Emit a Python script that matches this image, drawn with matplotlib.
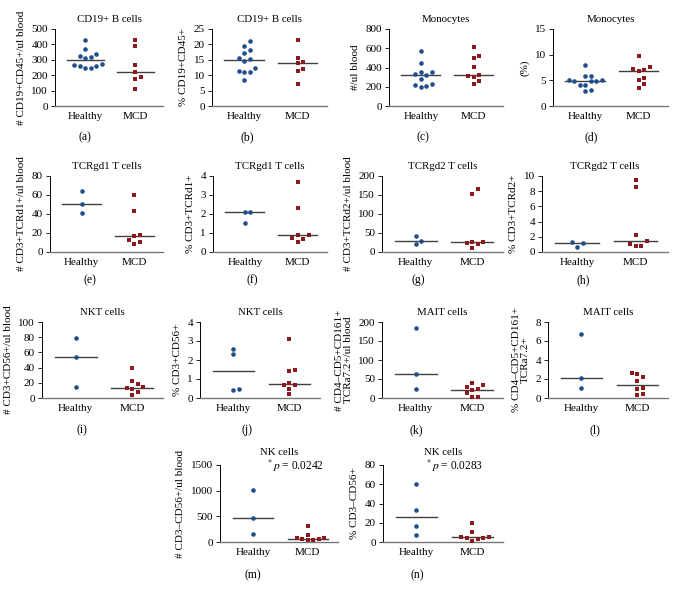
import numpy as np
import matplotlib.pyplot as plt

plt.rcParams['font.family'] = ['Liberation Serif', 'DejaVu Serif']
plt.rcParams['mathtext.fontset'] = 'stix'

groups = ['Healthy', 'MCD']

# values, one list per group and panel
a_healthy = [428, 370, 335, 322, 318, 310, 275, 268, 262, 258, 248, 245]
a_mcd = [428, 390, 268, 220, 188, 178, 112]
a_median = [300, 218]

b_healthy = [21.2, 19.5, 18.2, 17.3, 15.5, 15.3, 14.6, 12.3, 11.5, 11.2, 11.2, 8.6]
b_mcd = [21.3, 15.7, 14.4, 13.9, 12.0, 11.4, 7.0]
b_median = [15.0, 13.9]

c_healthy = [570, 450, 355, 350, 335, 320, 280, 225, 220, 205, 200]
c_mcd = [608, 520, 500, 410, 320, 310, 300, 255, 232]
c_median = [322, 322]

d_healthy = [7.9, 5.9, 5.9, 5.0, 5.0, 4.9, 4.8, 4.8, 4.0, 4.0, 3.1, 2.9]
d_mcd = [9.7, 7.6, 7.3, 7.1, 6.9, 5.5, 5.0, 4.3, 3.5]
d_median = [4.8, 6.9]

e_healthy = [64, 50, 41.5]
e_mcd = [59.5, 43, 18, 17, 13, 10, 8.5]
e_median = [50, 17]

f_healthy = [2.1, 2.1, 1.5]
f_mcd = [3.7, 2.3, 0.9, 0.9, 0.72, 0.68, 0.5]
f_median = [2.1, 0.9]

g_healthy = [42, 28, 20]
g_mcd = [165, 152, 26, 25, 23, 21, 11]
g_median = [28, 25]

h_healthy = [1.35, 1.15, 0.65]
h_mcd = [9.5, 8.6, 2.2, 1.4, 1.1, 0.85, 0.8]
h_median = [1.2, 1.45]

i_healthy = [79, 54, 14.5]
i_mcd = [39, 22, 19, 14, 13, 12, 8, 3.5]
i_median = [54, 13.5]

j_healthy = [2.6, 2.3, 0.5, 0.4]
j_mcd = [3.1, 1.5, 1.4, 0.8, 0.7, 0.7, 0.5, 0.2]
j_median = [1.4, 0.75]

k_healthy = [184, 63, 25]
k_mcd = [40, 33, 28, 23, 20, 13, 3, 2]
k_median = [63, 22]

l_healthy = [6.7, 2.1, 1.1]
l_mcd = [2.65, 2.55, 2.2, 1.8, 1.1, 0.9, 0.4, 0.3]
l_median = [2.1, 1.4]

m_healthy = [1005, 463, 155]
m_mcd = [305, 145, 85, 70, 62, 50, 40, 30]
m_median = [463, 65]

n_healthy = [60, 33.5, 17, 7]
n_mcd = [19.5, 10.5, 5.5, 5, 4.5, 4, 3, 1.5]
n_median = [25.5, 5]

titles = ['CD19+ B cells', 'CD19+ B cells', 'Monocytes', 'Monocytes',
          'TCRgd1 T cells', 'TCRgd1 T cells', 'TCRgd2 T cells', 'TCRgd2 T cells',
          'NKT cells', 'NKT cells', 'MAIT cells', 'MAIT cells',
          'NK cells', 'NK cells']
ylabels = ['# CD19+CD45+/ul blood', '% CD19+CD45+', '#/ul blood', '(%)',
           '# CD3+TCRd1+/ul blood', '% CD3+TCRd1+',
           '# CD3+TCRd2+/ul blood', '% CD3+TCRd2+',
           '# CD3+CD56+/ul blood', '% CD3+CD56+',
           '# CD4\u2013CD5+CD161+\nTCRa7.2+/ul blood', '% CD4\u2013CD5+CD161+\nTCRa7.2+',
           '# CD3\u2013CD56+/ul blood', '% CD3\u2013CD56+']
ymax = [500, 25, 800, 15, 80, 4, 200, 10, 100, 4, 200, 8, 1500, 80]
ystep = [100, 5, 200, 5, 20, 1, 50, 2, 20, 1, 50, 2, 500, 20]
letters = list('abcdefghijklmn')
pvalues = {12: '0.0242', 13: '0.0283'}

data = [(a_healthy, a_mcd, a_median), (b_healthy, b_mcd, b_median),
        (c_healthy, c_mcd, c_median), (d_healthy, d_mcd, d_median),
        (e_healthy, e_mcd, e_median), (f_healthy, f_mcd, f_median),
        (g_healthy, g_mcd, g_median), (h_healthy, h_mcd, h_median),
        (i_healthy, i_mcd, i_median), (j_healthy, j_mcd, j_median),
        (k_healthy, k_mcd, k_median), (l_healthy, l_mcd, l_median),
        (m_healthy, m_mcd, m_median), (n_healthy, n_mcd, n_median)]

# axes boxes in pixels: left, right, top, bottom
boxes = [(55, 163, 29, 106), (212, 327, 29, 106), (389, 503, 29, 106), (553, 668, 29, 106),
         (50, 163, 176, 252), (213, 327, 176, 252), (382, 503, 176, 252), (542, 668, 176, 252),
         (42, 163, 322, 398), (200, 320, 322, 398), (382, 503, 322, 398), (548, 668, 322, 398),
         (220, 338, 465, 542), (383, 503, 465, 542)]
letter_pos = [(85, 137), (247, 137), (423, 137), (591, 137),
              (90, 280), (252, 280), (418, 280), (583, 280),
              (82, 430), (247, 430), (416, 430), (595, 430),
              (253, 575), (417, 575)]

W, H = 681, 598
BLUE = '#1f4f8a'
RED = '#8b1a1f'
XLIM = (-0.6, 1.55)


def swarm(values, ypx, xpx, gap=5.5):
    # simple beeswarm: offset points that would overlap
    order = np.argsort(values)
    placed = []
    offs = np.zeros(len(values))
    for idx in order:
        y = values[idx] * ypx
        for k in range(0, 20):
            cands = [0] if k == 0 else [k * gap, -k * gap]
            ok = None
            for c in cands:
                if all((c - px) ** 2 + (y - py) ** 2 >= gap ** 2 for px, py in placed):
                    ok = c
                    break
            if ok is not None:
                offs[idx] = ok / xpx
                placed.append((ok, y))
                break
    return offs


fig = plt.figure(figsize=(W / 100, H / 100), dpi=100)

for n, (healthy, mcd, med) in enumerate(data):
    l, r, t, b = boxes[n]
    ax = fig.add_axes([l / W, 1 - b / H, (r - l) / W, (b - t) / H])
    ax.set_xlim(*XLIM)
    ax.set_ylim(0, ymax[n])
    ypx = (b - t) / ymax[n]
    xpx = (r - l) / (XLIM[1] - XLIM[0])
    for g, (vals, color, mk) in enumerate([(healthy, BLUE, 'o'), (mcd, RED, 's')]):
        vals = np.array(vals, dtype=float)
        xs = g + swarm(vals, ypx, xpx)
        ax.plot(xs, vals, linestyle='none', marker=mk, ms=3.3 if mk == 'o' else 3.0,
                color=color, mew=0, clip_on=False, zorder=3)
        ax.plot([g - 0.37, g + 0.37], [med[g], med[g]], color='#404040', lw=1.0, zorder=2)
    ax.set_yticks(np.arange(0, ymax[n] + ystep[n] / 2, ystep[n]))
    ax.set_xticks([0, 1])
    ax.set_xticklabels(groups)
    ax.tick_params(axis='x', length=0, labelsize=8, pad=4)
    ax.tick_params(axis='y', length=3, width=0.6, labelsize=8, pad=2)
    for s in ['top', 'right']:
        ax.spines[s].set_visible(False)
    ax.spines['left'].set_linewidth(0.7)
    ax.spines['bottom'].set_color('#777777')
    ax.spines['bottom'].set_linewidth(1.0)
    ax.set_title(titles[n], fontsize=7.8, pad=7 if n >= 12 else 5)
    ax.set_ylabel(ylabels[n], fontsize=8, labelpad=4, linespacing=1.0)
    if n in pvalues:
        ax.text(0.40 if n == 12 else 0.36, 0.99, r'$^{*}\,p$ = ' + pvalues[n],
                transform=ax.transAxes, fontsize=8.3, va='center', ha='left')
    lx, ly = letter_pos[n]
    fig.text(lx / W, 1 - ly / H, '(' + letters[n] + ')', fontsize=8.5,
             ha='center', va='center')

fig.savefig('out.png', dpi=100)
